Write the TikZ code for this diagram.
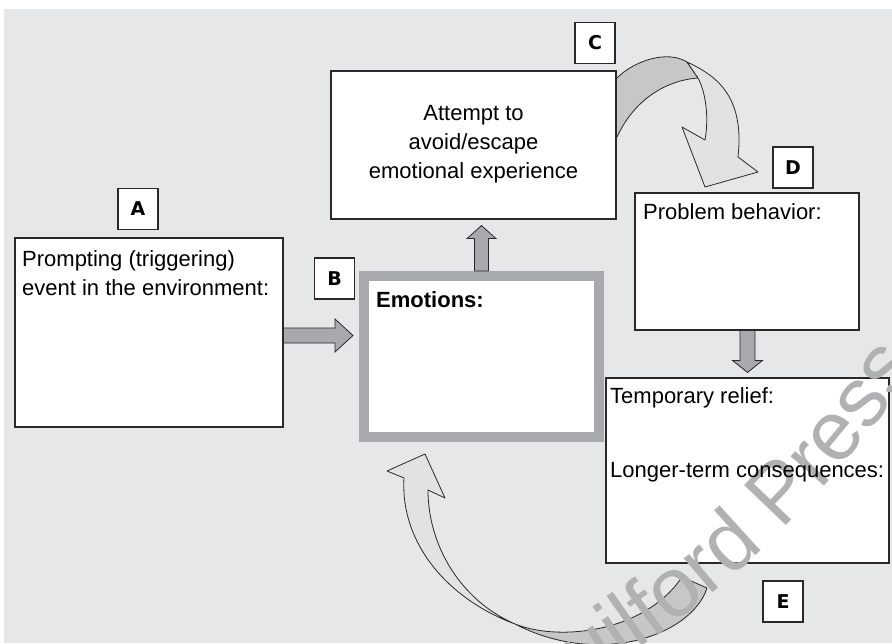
\documentclass[tikz,border=0pt]{standalone}
\usepackage{fontspec}
\setmainfont{Liberation Sans}
\newfontfamily\labelfont{DejaVu Sans}
\usetikzlibrary{calc,decorations.text}

\definecolor{pagebg}{HTML}{E6E7E8}
\definecolor{edge}{HTML}{2B2829}
\definecolor{arrowgray}{HTML}{A7A9AC}
\definecolor{ribbondark}{HTML}{C6C7C9}
\definecolor{ribbonlight}{HTML}{E1E2E4}
\definecolor{wmgray}{HTML}{AFB1B3}

\newcommand\wmfont{\fontsize{84}{84}\selectfont}

\tikzset{
  box/.style={draw=edge, line width=1.1pt, fill=white, inner sep=0pt},
  tagbox/.style={draw=edge, line width=1.1pt, fill=white, inner sep=0pt,
    minimum width=40pt, minimum height=41pt,
    font=\labelfont\bfseries\fontsize{19}{19}\selectfont},
  emobox/.style={draw=arrowgray, line width=10pt, fill=white, inner sep=0pt},
  txt/.style={inner sep=0pt, font=\fontsize{22}{29}\selectfont},
  blockarrow/.style={fill=arrowgray, draw=edge, line width=0.8pt, line join=miter},
  ribbon/.style={draw=edge, line width=0.8pt, line join=round}
}

\begin{document}
\begin{tikzpicture}[x=1pt,y=-1pt]
  \useasboundingbox (0,0) rectangle (892,643);
  \clip (0,0) rectangle (892,643);

  % page tint
  \fill[pagebg] (4,9) rectangle (892,643);

  % curved ribbon from the avoidance box down to the problem behaviour
  \fill[ribbondark] (617,78) .. controls (635,60) and (668,50) .. (687,62)
    -- (698,78) .. controls (668,80) and (635,98) .. (617,137) -- cycle;
  \draw[ribbon] (617,78) .. controls (635,60) and (668,50) .. (687,62)
    -- (698,78) .. controls (668,80) and (635,98) .. (617,137);
  \draw[ribbon, fill=ribbonlight] (687,62) .. controls (715,75) and (745,95) .. (738,157)
    -- (758,172) -- (705,187) -- (682,127) -- (705,140)
    .. controls (709,118) and (706,93) .. (698,78) -- cycle;

  % curved ribbon from the consequences back up to the emotions
  \draw[ribbon, fill=ribbondark] (515,624) .. controls (560,642) and (645,632) .. (682,577)
    -- (707,588) .. controls (692,635) and (600,668) .. (515,624) -- cycle;
  \draw[ribbon, fill=ribbonlight] (404,478) -- (387,471) -- (425,454) -- (445,498) -- (428,490)
    .. controls (428,545) and (460,600) .. (515,624)
    .. controls (450,600) and (400,545) .. (404,478) -- cycle;

  % boxes
  \node[box, minimum width=268pt, minimum height=189pt] (prompt) at (149,332.5) {};
  \node[box, minimum width=285pt, minimum height=148pt] (attempt) at (473.5,145) {};
  \node[box, minimum width=224pt, minimum height=137pt] (problem) at (747,261.5) {};
  \node[box, minimum width=283pt, minimum height=185pt] (relief) at (747.5,470.5) {};
  \node[emobox, minimum width=235pt, minimum height=161pt] (emo) at (481.5,356.5) {};

  % letter tags
  \node[tagbox] (tagA) at (138,209) {A};
  \node[tagbox] (tagB) at (334.5,278.5) {B};
  \node[tagbox] (tagC) at (595,43) {C};
  \node[tagbox] (tagD) at (793,167.5) {D};
  \node[tagbox] (tagE) at (783,601.5) {E};

  % block arrows between the boxes
  \coordinate (rA) at ($(prompt.east)+(0,3)$);
  \coordinate (rT) at ($(emo.west |- rA)+(-6,0)$);
  \draw[blockarrow] ($(rA)+(0,-7.5)$) -- ($(rT)+(-18,-7.5)$) -- ($(rT)+(-18,-16.5)$)
    -- (rT) -- ($(rT)+(-18,16.5)$) -- ($(rT)+(-18,7.5)$) -- ($(rA)+(0,7.5)$) -- cycle;

  \coordinate (uA) at (emo.north);
  \coordinate (uT) at ($(uA |- attempt.south)+(0,6)$);
  \draw[blockarrow] ($(uA)+(-7,0)$) -- ($(uT)+(-7,13)$) -- ($(uT)+(-14.5,13)$)
    -- (uT) -- ($(uT)+(14.5,13)$) -- ($(uT)+(7,13)$) -- ($(uA)+(7,0)$) -- cycle;

  \coordinate (dA) at ($(problem.south)+(0.5,0)$);
  \coordinate (dT) at ($(dA |- relief.north)+(0,-5)$);
  \draw[blockarrow] ($(dA)+(-7.5,0)$) -- ($(dT)+(-7.5,-12)$) -- ($(dT)+(-15,-12)$)
    -- (dT) -- ($(dT)+(15,-12)$) -- ($(dT)+(7.5,-12)$) -- ($(dA)+(7.5,0)$) -- cycle;

  % publisher mark
  \begin{scope}[x=1pt,y=1pt]
    \path[decorate, decoration={text along path, text color=wmgray,
      text={|\wmfont|Guilford Press}}]
      (525.9,-717.5) arc[start angle=-62.3, end angle=-20, radius=1069];
  \end{scope}

  % box texts
  \node[txt, anchor=base west] (p1) at (22,266) {Prompting (triggering)};
  \node[txt, anchor=base west] (p2) at (22,295) {event in the environment:};
  \node[txt, anchor=base] (a1) at (473.5,120) {Attempt to};
  \node[txt, anchor=base] (a2) at (473.5,149) {avoid/escape};
  \node[txt, anchor=base] (a3) at (473.5,178) {emotional experience};
  \node[txt, anchor=base west, font=\bfseries\fontsize{22}{29}\selectfont] (e1) at (376,307) {Emotions:};
  \node[txt, anchor=base west] (b1) at (643,219) {Problem behavior:};
  \node[txt, anchor=base west] (r1) at (610,403) {Temporary relief:};
  \node[txt, anchor=base west] (r2) at (610,477) {Longer-term consequences:};
\end{tikzpicture}
\end{document}
